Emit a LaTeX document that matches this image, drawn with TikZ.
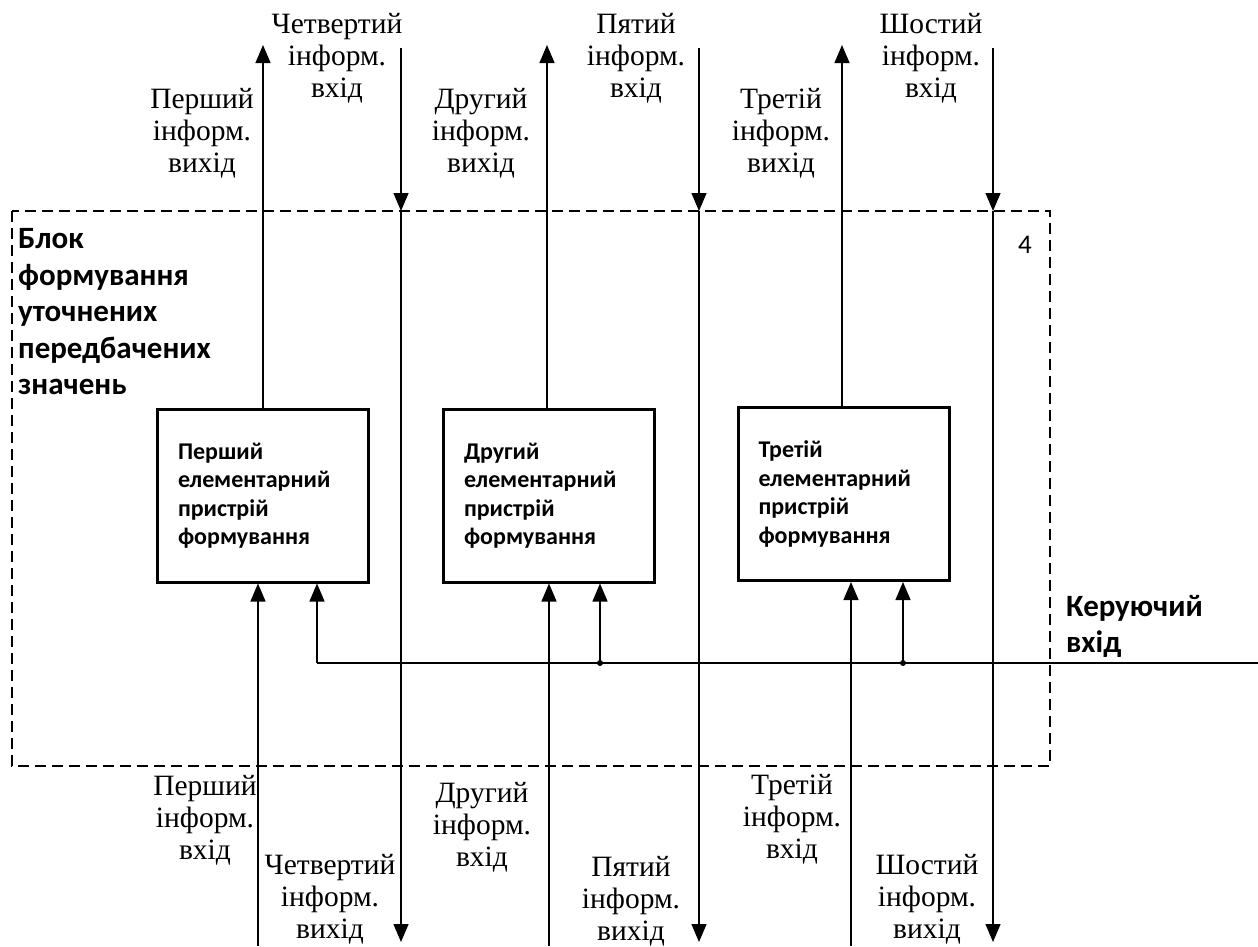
\documentclass[tikz,border=0pt]{standalone}
\usepackage{fontspec}
\setmainfont{Liberation Serif}
\newfontfamily\calfont{Carlito}
\usetikzlibrary{arrows.meta}
\begin{document}
\begin{tikzpicture}[x=1pt,y=-1pt,
  lbl/.style={align=center, inner sep=0pt, font=\fontsize{29.5}{32}\selectfont},
  blbl/.style={align=left, inner sep=0pt, font=\calfont\bfseries\fontsize{31}{36.5}\selectfont},
  devbox/.style={draw, line width=3pt, minimum width=211pt, minimum height=173pt,
     text width=170pt, align=left, inner xsep=20.5pt, inner ysep=0pt,
     font=\calfont\bfseries\fontsize{24}{28.5}\selectfont},
  wire/.style={line width=1.3pt},
  arr/.style={wire, -{Triangle[width=15pt,length=18pt]}},
  frame/.style={line width=1.5pt, dash pattern=on 11pt off 6pt},
  dot/.style={circle, fill, inner sep=0pt, minimum size=6pt}
]
\useasboundingbox (0,0) rectangle (1258,946);

% outer dashed block
\draw[frame] (12,211) rectangle (1050,766);

% device boxes
\node[devbox] (b1) at (263,495.5) {Перший\\елементарний\\пристрій\\формування};
\node[devbox] (b2) at (549,495.5) {Другий\\елементарний\\пристрій\\формування};
\node[devbox] (b3) at (843.5,494) {Третій\\елементарний\\пристрій\\формування};

% block label, number
\node[blbl, anchor=west] (blk) at (18,312) {Блок\\формування\\уточнених\\передбачених\\значень};
\node[inner sep=0pt, font=\calfont\fontsize{27}{30}\selectfont] (num) at (1025,245) {4};
\node[blbl, anchor=west, font=\calfont\bfseries\fontsize{31}{36}\selectfont] (ctl) at (1066,626) {Керуючий\\вхід};

% outputs going up
\coordinate (o1) at (263,45);
\coordinate (o2) at (547,45);
\coordinate (o3) at (842,45);
\draw[arr] (b1.north) -- (o1);
\draw[arr] (b2.north -| o2) -- (o2);
\draw[arr] (b3.north -| o3) -- (o3);

% through lines going down
\foreach \n/\x in {4/401, 5/699, 6/993}{
  \coordinate (t\n) at (\x,48);
  \coordinate (m\n) at (\x,211);
  \coordinate (e\n) at (\x,942);
  \draw[arr] (t\n) -- (m\n);
  \draw[arr] (m\n) -- (e\n);
}

% information inputs from below
\coordinate (i1) at (258,946);
\coordinate (i2) at (549,946);
\coordinate (i3) at (851,946);
\draw[arr] (i1) -- (i1 |- b1.south);
\draw[arr] (i2) -- (i2 |- b2.south);
\draw[arr] (i3) -- (i3 |- b3.south);

% control input
\coordinate (c1) at (317,663);
\node[dot] (c2) at (600,663) {};
\node[dot] (c3) at (903,663) {};
\coordinate (cin) at (1258,663);
\draw[wire] (cin) -- (c1);
\draw[arr] (c1) -- (c1 |- b1.south);
\draw[arr] (c2.center) -- (c2 |- b2.south);
\draw[arr] (c3.center) -- (c3 |- b3.south);

% top labels
\node[lbl] (lt4) at (337,58) {Четвертий\\інформ.\\вхід};
\node[lbl] (lt1) at (202,133) {Перший\\інформ.\\вихід};
\node[lbl] (lt2) at (481,133) {Другий\\інформ.\\вихід};
\node[lbl] (lt5) at (636,58) {Пятий\\інформ.\\вхід};
\node[lbl] (lt3) at (781,133) {Третій\\інформ.\\вихід};
\node[lbl] (lt6) at (931,58) {Шостий\\інформ.\\вхід};

% bottom labels
\node[lbl] (lb1) at (205,820) {Перший\\інформ.\\вхід};
\node[lbl] (lb4) at (330,899) {Четвертий\\інформ.\\вихід};
\node[lbl] (lb2) at (482,827) {Другий\\інформ.\\вхід};
\node[lbl] (lb5) at (631,901) {Пятий\\інформ.\\вихід};
\node[lbl] (lb3) at (792,819) {Третій\\інформ.\\вхід};
\node[lbl] (lb6) at (927,899) {Шостий\\інформ.\\вихід};
\end{tikzpicture}
\end{document}
